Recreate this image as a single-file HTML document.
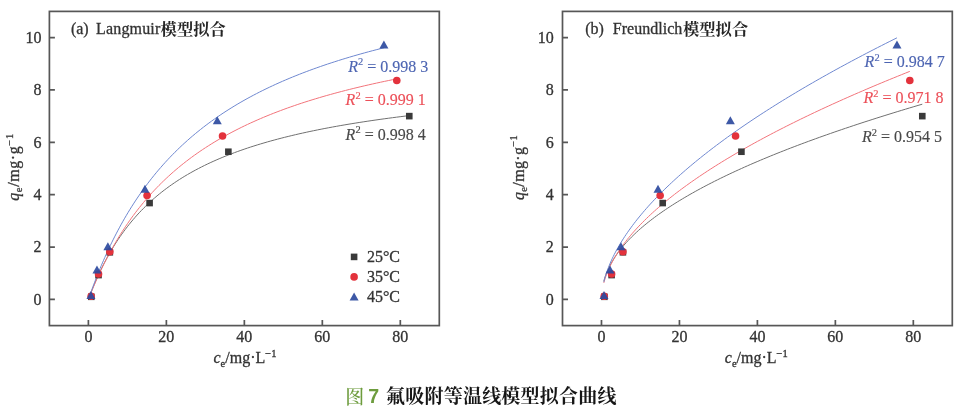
<!DOCTYPE html>
<html><head><meta charset="utf-8"><title>Figure 7</title><style>html,body{margin:0;padding:0;background:#fff;}body{width:969px;height:413px;overflow:hidden;font-family:"Liberation Serif",serif;}svg{display:block;}</style></head><body><svg width="969" height="413" viewBox="0 0 969 413" font-family='"Liberation Serif", serif'><g style="filter:blur(0.6px)">
<path d="M90.73 293.24 L90.88 292.85 L91.18 292.07 L91.60 291.02 L92.11 289.74 L92.70 288.28 L93.37 286.65 L94.11 284.87 L94.91 282.97 L95.78 280.96 L96.71 278.84 L97.69 276.65 L98.73 274.37 L99.82 272.04 L100.97 269.64 L102.16 267.21 L103.41 264.73 L104.70 262.22 L106.04 259.69 L107.42 257.15 L108.85 254.58 L110.32 252.02 L111.83 249.45 L113.39 246.88 L114.99 244.32 L116.62 241.76 L118.30 239.22 L120.02 236.70 L121.77 234.19 L123.56 231.71 L125.39 229.25 L127.26 226.81 L129.16 224.40 L131.10 222.01 L133.08 219.66 L135.09 217.33 L137.13 215.04 L139.21 212.78 L141.33 210.55 L143.48 208.36 L145.66 206.19 L147.87 204.06 L150.12 201.97 L152.39 199.91 L154.70 197.88 L157.05 195.89 L159.42 193.93 L161.82 192.00 L164.26 190.11 L166.73 188.25 L169.22 186.43 L171.75 184.64 L174.31 182.88 L176.89 181.15 L179.51 179.45 L182.15 177.79 L184.83 176.15 L187.53 174.55 L190.26 172.98 L193.02 171.43 L195.81 169.92 L198.63 168.43 L201.47 166.97 L204.34 165.54 L207.24 164.14 L210.17 162.76 L213.12 161.41 L216.10 160.08 L219.11 158.78 L222.14 157.50 L225.20 156.25 L228.29 155.02 L231.40 153.82 L234.54 152.64 L237.71 151.47 L240.90 150.34 L244.12 149.22 L247.36 148.12 L250.63 147.04 L253.92 145.99 L257.24 144.95 L260.58 143.93 L263.95 142.94 L267.34 141.95 L270.75 140.99 L274.20 140.05 L277.66 139.12 L281.15 138.21 L284.67 137.31 L288.20 136.44 L291.77 135.57 L295.35 134.73 L298.96 133.89 L302.59 133.08 L306.25 132.27 L309.93 131.48 L313.63 130.71 L317.36 129.95 L321.11 129.20 L324.88 128.46 L328.68 127.74 L332.50 127.03 L336.34 126.33 L340.20 125.65 L344.09 124.97 L348.00 124.31 L351.93 123.66 L355.88 123.02 L359.86 122.39 L363.86 121.77 L367.88 121.16 L371.92 120.56 L375.98 119.97 L380.07 119.39 L384.18 118.82 L388.31 118.26 L392.46 117.71 L396.63 117.16 L400.83 116.63 L405.04 116.10 L409.28 115.58" fill="none" stroke="#707070" stroke-width="1.0"/>
<path d="M90.73 293.51 L90.87 293.15 L91.17 292.43 L91.57 291.45 L92.06 290.26 L92.62 288.89 L93.27 287.35 L93.97 285.68 L94.75 283.87 L95.58 281.95 L96.47 279.92 L97.42 277.80 L98.42 275.60 L99.47 273.32 L100.57 270.97 L101.72 268.56 L102.91 266.09 L104.15 263.58 L105.44 261.02 L106.77 258.43 L108.14 255.81 L109.55 253.16 L111.01 250.49 L112.50 247.80 L114.04 245.10 L115.61 242.39 L117.22 239.68 L118.87 236.96 L120.55 234.24 L122.28 231.53 L124.04 228.82 L125.83 226.12 L127.66 223.43 L129.52 220.76 L131.42 218.09 L133.35 215.45 L135.32 212.82 L137.32 210.21 L139.35 207.62 L141.41 205.05 L143.50 202.50 L145.63 199.98 L147.79 197.49 L149.98 195.01 L152.20 192.57 L154.45 190.15 L156.73 187.76 L159.04 185.39 L161.38 183.05 L163.75 180.74 L166.15 178.46 L168.58 176.21 L171.03 173.99 L173.52 171.79 L176.03 169.62 L178.57 167.49 L181.14 165.38 L183.74 163.30 L186.36 161.25 L189.02 159.23 L191.70 157.23 L194.40 155.27 L197.13 153.33 L199.89 151.42 L202.68 149.54 L205.49 147.68 L208.33 145.85 L211.19 144.05 L214.08 142.28 L217.00 140.53 L219.94 138.81 L222.90 137.11 L225.89 135.44 L228.91 133.80 L231.95 132.18 L235.02 130.58 L238.11 129.01 L241.22 127.46 L244.36 125.93 L247.53 124.43 L250.71 122.95 L253.93 121.50 L257.16 120.06 L260.42 118.65 L263.70 117.26 L267.01 115.89 L270.34 114.54 L273.69 113.21 L277.07 111.90 L280.47 110.61 L283.89 109.34 L287.34 108.09 L290.80 106.86 L294.30 105.65 L297.81 104.45 L301.35 103.27 L304.90 102.11 L308.48 100.97 L312.09 99.85 L315.71 98.74 L319.36 97.65 L323.03 96.57 L326.72 95.51 L330.43 94.47 L334.17 93.44 L337.92 92.43 L341.70 91.43 L345.50 90.44 L349.32 89.47 L353.16 88.52 L357.02 87.58 L360.91 86.65 L364.81 85.73 L368.74 84.83 L372.68 83.94 L376.65 83.07 L380.64 82.20 L384.65 81.35 L388.68 80.51 L392.73 79.68 L396.80 78.87" fill="none" stroke="#f2747b" stroke-width="1.0"/>
<path d="M90.73 292.77 L90.87 292.38 L91.15 291.60 L91.53 290.54 L92.00 289.26 L92.54 287.77 L93.16 286.12 L93.84 284.30 L94.58 282.34 L95.38 280.26 L96.23 278.06 L97.14 275.76 L98.09 273.36 L99.10 270.87 L100.15 268.31 L101.25 265.67 L102.40 262.98 L103.59 260.23 L104.82 257.42 L106.09 254.58 L107.41 251.70 L108.76 248.78 L110.15 245.84 L111.59 242.87 L113.06 239.89 L114.56 236.89 L116.11 233.88 L117.69 230.87 L119.30 227.85 L120.95 224.83 L122.64 221.81 L124.35 218.79 L126.11 215.79 L127.89 212.79 L129.71 209.81 L131.56 206.84 L133.44 203.88 L135.36 200.94 L137.30 198.02 L139.28 195.13 L141.29 192.25 L143.32 189.40 L145.39 186.57 L147.49 183.76 L149.61 180.98 L151.77 178.23 L153.96 175.51 L156.17 172.81 L158.41 170.14 L160.68 167.50 L162.98 164.89 L165.30 162.31 L167.66 159.76 L170.04 157.24 L172.45 154.75 L174.88 152.29 L177.34 149.86 L179.83 147.46 L182.34 145.09 L184.88 142.75 L187.45 140.45 L190.04 138.17 L192.66 135.92 L195.30 133.70 L197.97 131.52 L200.67 129.36 L203.38 127.23 L206.13 125.13 L208.90 123.06 L211.69 121.02 L214.51 119.01 L217.35 117.02 L220.21 115.07 L223.10 113.14 L226.02 111.24 L228.95 109.36 L231.91 107.52 L234.90 105.70 L237.90 103.90 L240.93 102.13 L243.99 100.39 L247.06 98.67 L250.16 96.98 L253.29 95.31 L256.43 93.66 L259.60 92.04 L262.79 90.44 L266.00 88.87 L269.24 87.32 L272.49 85.79 L275.77 84.28 L279.07 82.79 L282.39 81.33 L285.74 79.88 L289.10 78.46 L292.49 77.06 L295.90 75.68 L299.33 74.32 L302.78 72.97 L306.25 71.65 L309.75 70.34 L313.26 69.06 L316.80 67.79 L320.36 66.54 L323.93 65.31 L327.53 64.09 L331.15 62.90 L334.79 61.72 L338.45 60.55 L342.13 59.40 L345.83 58.27 L349.55 57.16 L353.29 56.06 L357.05 54.97 L360.83 53.90 L364.63 52.85 L368.45 51.81 L372.29 50.78 L376.15 49.77 L380.03 48.77 L383.93 47.78" fill="none" stroke="#6f88d0" stroke-width="1.0"/>
<rect x="88.01" y="293.50" width="6.60" height="6.60" fill="#3a3a3a"/>
<rect x="95.23" y="271.77" width="6.60" height="6.60" fill="#3a3a3a"/>
<rect x="106.53" y="248.99" width="6.60" height="6.60" fill="#3a3a3a"/>
<rect x="146.30" y="199.76" width="6.60" height="6.60" fill="#3a3a3a"/>
<rect x="225.06" y="148.44" width="6.60" height="6.60" fill="#3a3a3a"/>
<rect x="405.98" y="112.83" width="6.60" height="6.60" fill="#3a3a3a"/>
<circle cx="91.12" cy="296.27" r="3.80" fill="#e3323c"/>
<circle cx="98.53" cy="274.02" r="3.80" fill="#e3323c"/>
<circle cx="109.83" cy="251.76" r="3.80" fill="#e3323c"/>
<circle cx="147.07" cy="195.47" r="3.80" fill="#e3323c"/>
<circle cx="222.52" cy="136.03" r="3.80" fill="#e3323c"/>
<circle cx="396.80" cy="80.52" r="3.80" fill="#e3323c"/>
<path d="M90.92 291.09 L95.42 299.09 L86.42 299.09 Z" fill="#2d4a9e" fill-opacity="0.92"/>
<path d="M96.97 265.43 L101.47 273.43 L92.47 273.43 Z" fill="#2d4a9e" fill-opacity="0.92"/>
<path d="M107.89 242.13 L112.39 250.13 L103.39 250.13 Z" fill="#2d4a9e" fill-opacity="0.92"/>
<path d="M144.93 184.78 L149.43 192.78 L140.43 192.78 Z" fill="#2d4a9e" fill-opacity="0.92"/>
<path d="M217.29 116.18 L221.79 124.18 L212.79 124.18 Z" fill="#2d4a9e" fill-opacity="0.92"/>
<path d="M383.93 40.51 L388.43 48.51 L379.43 48.51 Z" fill="#2d4a9e" fill-opacity="0.92"/>
<rect x="49.40" y="11.40" width="389.90" height="314.20" fill="none" stroke="#575757" stroke-width="1.7"/>
<text x="88.39" y="342.30" text-anchor="middle" fill="#333333" stroke="#333333" stroke-width="0.3" font-size="16" >0</text>
<text x="166.37" y="342.30" text-anchor="middle" fill="#333333" stroke="#333333" stroke-width="0.3" font-size="16" >20</text>
<text x="244.35" y="342.30" text-anchor="middle" fill="#333333" stroke="#333333" stroke-width="0.3" font-size="16" >40</text>
<text x="322.33" y="342.30" text-anchor="middle" fill="#333333" stroke="#333333" stroke-width="0.3" font-size="16" >60</text>
<text x="400.31" y="342.30" text-anchor="middle" fill="#333333" stroke="#333333" stroke-width="0.3" font-size="16" >80</text>
<text x="41.50" y="304.82" text-anchor="end" fill="#333333" stroke="#333333" stroke-width="0.3" font-size="16" >0</text>
<text x="41.50" y="252.45" text-anchor="end" fill="#333333" stroke="#333333" stroke-width="0.3" font-size="16" >2</text>
<text x="41.50" y="200.08" text-anchor="end" fill="#333333" stroke="#333333" stroke-width="0.3" font-size="16" >4</text>
<text x="41.50" y="147.72" text-anchor="end" fill="#333333" stroke="#333333" stroke-width="0.3" font-size="16" >6</text>
<text x="41.50" y="95.35" text-anchor="end" fill="#333333" stroke="#333333" stroke-width="0.3" font-size="16" >8</text>
<text x="41.50" y="42.98" text-anchor="end" fill="#333333" stroke="#333333" stroke-width="0.3" font-size="16" >10</text>
<path d="M88.39 325.60 V320.10 M166.37 325.60 V320.10 M244.35 325.60 V320.10 M322.33 325.60 V320.10 M400.31 325.60 V320.10 M49.40 299.42 H54.90 M49.40 247.05 H54.90 M49.40 194.68 H54.90 M49.40 142.32 H54.90 M49.40 89.95 H54.90 M49.40 37.58 H54.90" stroke="#575757" stroke-width="1.7" fill="none"/>
<text x="244.95" y="363.3" text-anchor="middle" fill="#333333" stroke="#333333" stroke-width="0.3" font-size="16"><tspan font-style="italic">c</tspan><tspan font-size="10.5" dy="3.2">e</tspan><tspan dy="-3.2">/mg·L</tspan><tspan font-size="10.5" dy="-6.2">−1</tspan></text>
<text transform="translate(19.20,167.00) rotate(-90)" text-anchor="middle" fill="#333333" stroke="#333333" stroke-width="0.3" font-size="16" letter-spacing="0.6"><tspan font-style="italic">q</tspan><tspan font-size="10.5" dy="3.2">e</tspan><tspan dy="-3.2">/mg·g</tspan><tspan font-size="10.5" dy="-6.2">−1</tspan></text>
<text x="70.90" y="34.10" text-anchor="start" fill="#333333" stroke="#333333" stroke-width="0.3" font-size="16" >(a)</text>
<text x="96.00" y="34.10" text-anchor="start" fill="#333333" stroke="#333333" stroke-width="0.3" font-size="16" textLength="64.3" lengthAdjust="spacing">Langmuir</text>
<text x="348.30" y="71.50" fill="#4d65b2" stroke="#4d65b2" stroke-width="0.15" font-size="16" xml:space="preserve"><tspan font-style="italic">R</tspan><tspan font-size="10.5" dy="-6.5">2</tspan><tspan dy="6.5"> = 0.998 3</tspan></text>
<text x="345.60" y="105.00" fill="#ec5059" stroke="#ec5059" stroke-width="0.15" font-size="16" xml:space="preserve"><tspan font-style="italic">R</tspan><tspan font-size="10.5" dy="-6.5">2</tspan><tspan dy="6.5"> = 0.999 1</tspan></text>
<text x="345.60" y="139.50" fill="#484848" stroke="#484848" stroke-width="0.15" font-size="16" xml:space="preserve"><tspan font-style="italic">R</tspan><tspan font-size="10.5" dy="-6.5">2</tspan><tspan dy="6.5"> = 0.998 4</tspan></text>
<text x="160.60" y="34.70" fill="#262626" font-size="16.3" font-weight="bold" font-family='"Liberation Serif", "Noto Serif CJK SC", serif' textLength="65.2" lengthAdjust="spacing">模型拟合</text>
<path d="M603.82 281.19 L603.97 280.63 L604.27 279.55 L604.69 278.18 L605.20 276.62 L605.79 274.94 L606.46 273.18 L607.20 271.38 L608.00 269.54 L608.87 267.69 L609.79 265.83 L610.78 263.97 L611.82 262.11 L612.91 260.26 L614.06 258.42 L615.25 256.58 L616.49 254.76 L617.79 252.95 L619.12 251.15 L620.51 249.36 L621.93 247.59 L623.40 245.83 L624.92 244.07 L626.47 242.33 L628.07 240.61 L629.71 238.89 L631.38 237.18 L633.10 235.49 L634.85 233.80 L636.64 232.13 L638.47 230.46 L640.34 228.81 L642.24 227.16 L644.18 225.53 L646.16 223.90 L648.17 222.28 L650.21 220.67 L652.29 219.07 L654.40 217.48 L656.55 215.89 L658.73 214.31 L660.94 212.75 L663.19 211.18 L665.47 209.63 L667.78 208.08 L670.12 206.54 L672.49 205.01 L674.90 203.48 L677.33 201.96 L679.80 200.45 L682.29 198.94 L684.82 197.44 L687.38 195.94 L689.96 194.45 L692.58 192.97 L695.22 191.49 L697.89 190.02 L700.60 188.55 L703.33 187.09 L706.09 185.64 L708.87 184.19 L711.69 182.74 L714.53 181.30 L717.40 179.86 L720.30 178.43 L723.23 177.01 L726.18 175.59 L729.16 174.17 L732.17 172.76 L735.20 171.35 L738.26 169.94 L741.35 168.55 L744.46 167.15 L747.60 165.76 L750.76 164.37 L753.95 162.99 L757.17 161.61 L760.41 160.24 L763.67 158.87 L766.97 157.50 L770.28 156.14 L773.62 154.78 L776.99 153.42 L780.38 152.07 L783.80 150.72 L787.24 149.37 L790.70 148.03 L794.19 146.69 L797.70 145.36 L801.24 144.03 L804.80 142.70 L808.39 141.37 L812.00 140.05 L815.63 138.73 L819.28 137.41 L822.96 136.10 L826.67 134.79 L830.39 133.49 L834.14 132.18 L837.91 130.88 L841.71 129.58 L845.53 128.29 L849.37 127.00 L853.23 125.71 L857.11 124.42 L861.02 123.14 L864.95 121.85 L868.91 120.58 L872.88 119.30 L876.88 118.03 L880.90 116.76 L884.94 115.49 L889.00 114.22 L893.09 112.96 L897.19 111.70 L901.32 110.44 L905.47 109.19 L909.64 107.93 L913.84 106.68 L918.05 105.43 L922.29 104.19" fill="none" stroke="#707070" stroke-width="1.0"/>
<path d="M603.82 282.95 L603.96 282.41 L604.26 281.36 L604.66 280.00 L605.14 278.45 L605.71 276.75 L606.35 274.96 L607.06 273.11 L607.84 271.21 L608.67 269.27 L609.56 267.32 L610.51 265.35 L611.50 263.36 L612.56 261.38 L613.65 259.39 L614.80 257.40 L616.00 255.41 L617.24 253.42 L618.52 251.44 L619.85 249.46 L621.22 247.49 L622.64 245.52 L624.09 243.56 L625.59 241.60 L627.12 239.64 L628.69 237.70 L630.30 235.76 L631.95 233.82 L633.64 231.89 L635.36 229.97 L637.12 228.05 L638.91 226.14 L640.74 224.23 L642.60 222.33 L644.50 220.44 L646.43 218.55 L648.40 216.66 L650.39 214.79 L652.42 212.91 L654.49 211.04 L656.58 209.18 L658.71 207.32 L660.86 205.47 L663.05 203.62 L665.27 201.78 L667.52 199.94 L669.80 198.10 L672.11 196.27 L674.45 194.45 L676.82 192.62 L679.22 190.81 L681.65 188.99 L684.10 187.19 L686.59 185.38 L689.10 183.58 L691.64 181.78 L694.21 179.99 L696.81 178.20 L699.43 176.42 L702.08 174.64 L704.76 172.86 L707.46 171.08 L710.20 169.31 L712.95 167.55 L715.74 165.78 L718.55 164.02 L721.39 162.27 L724.25 160.51 L727.14 158.76 L730.05 157.02 L732.99 155.27 L735.96 153.53 L738.95 151.79 L741.96 150.06 L745.00 148.33 L748.07 146.60 L751.16 144.87 L754.27 143.15 L757.41 141.43 L760.58 139.71 L763.76 138.00 L766.97 136.29 L770.21 134.58 L773.47 132.87 L776.75 131.17 L780.05 129.47 L783.38 127.77 L786.74 126.07 L790.11 124.38 L793.51 122.69 L796.93 121.00 L800.38 119.31 L803.84 117.63 L807.33 115.95 L810.85 114.27 L814.38 112.59 L817.94 110.92 L821.52 109.24 L825.12 107.57 L828.74 105.91 L832.39 104.24 L836.06 102.58 L839.75 100.92 L843.46 99.26 L847.19 97.60 L850.95 95.95 L854.72 94.29 L858.52 92.64 L862.34 91.00 L866.18 89.35 L870.04 87.70 L873.93 86.06 L877.83 84.42 L881.76 82.78 L885.70 81.15 L889.67 79.51 L893.66 77.88 L897.66 76.25 L901.69 74.62 L905.74 72.99 L909.81 71.36" fill="none" stroke="#f2747b" stroke-width="1.0"/>
<path d="M603.82 282.08 L603.96 281.51 L604.24 280.40 L604.62 278.96 L605.09 277.30 L605.63 275.49 L606.25 273.56 L606.93 271.56 L607.67 269.49 L608.47 267.38 L609.32 265.25 L610.22 263.08 L611.18 260.91 L612.19 258.72 L613.24 256.52 L614.34 254.31 L615.49 252.10 L616.67 249.89 L617.91 247.68 L619.18 245.47 L620.49 243.26 L621.85 241.05 L623.24 238.84 L624.67 236.64 L626.14 234.44 L627.65 232.24 L629.19 230.05 L630.77 227.86 L632.38 225.67 L634.03 223.49 L635.72 221.31 L637.43 219.13 L639.19 216.96 L640.97 214.80 L642.79 212.63 L644.64 210.48 L646.52 208.32 L648.43 206.17 L650.38 204.02 L652.36 201.88 L654.36 199.74 L656.40 197.61 L658.47 195.48 L660.56 193.35 L662.69 191.22 L664.84 189.10 L667.03 186.99 L669.24 184.88 L671.48 182.77 L673.75 180.66 L676.05 178.56 L678.37 176.46 L680.73 174.36 L683.11 172.27 L685.51 170.18 L687.95 168.09 L690.41 166.01 L692.90 163.93 L695.41 161.85 L697.95 159.78 L700.52 157.71 L703.11 155.64 L705.72 153.58 L708.37 151.52 L711.03 149.46 L713.73 147.40 L716.45 145.35 L719.19 143.30 L721.96 141.25 L724.75 139.20 L727.56 137.16 L730.40 135.12 L733.27 133.08 L736.16 131.05 L739.07 129.02 L742.01 126.99 L744.97 124.96 L747.95 122.94 L750.96 120.91 L753.99 118.89 L757.04 116.87 L760.11 114.86 L763.21 112.85 L766.33 110.84 L769.48 108.83 L772.65 106.82 L775.83 104.82 L779.05 102.81 L782.28 100.81 L785.54 98.82 L788.81 96.82 L792.11 94.83 L795.43 92.84 L798.78 90.85 L802.14 88.86 L805.53 86.87 L808.94 84.89 L812.37 82.91 L815.82 80.93 L819.29 78.95 L822.78 76.97 L826.30 75.00 L829.83 73.03 L833.39 71.06 L836.96 69.09 L840.56 67.12 L844.18 65.16 L847.82 63.20 L851.47 61.23 L855.15 59.28 L858.85 57.32 L862.57 55.36 L866.31 53.41 L870.07 51.45 L873.85 49.50 L877.65 47.55 L881.47 45.61 L885.31 43.66 L889.17 41.72 L893.05 39.77 L896.95 37.83" fill="none" stroke="#6f88d0" stroke-width="1.0"/>
<rect x="601.10" y="293.50" width="6.60" height="6.60" fill="#3a3a3a"/>
<rect x="608.31" y="271.77" width="6.60" height="6.60" fill="#3a3a3a"/>
<rect x="619.62" y="248.99" width="6.60" height="6.60" fill="#3a3a3a"/>
<rect x="659.38" y="199.76" width="6.60" height="6.60" fill="#3a3a3a"/>
<rect x="738.12" y="148.44" width="6.60" height="6.60" fill="#3a3a3a"/>
<rect x="918.99" y="112.83" width="6.60" height="6.60" fill="#3a3a3a"/>
<circle cx="604.21" cy="296.27" r="3.80" fill="#e3323c"/>
<circle cx="611.61" cy="274.02" r="3.80" fill="#e3323c"/>
<circle cx="622.92" cy="251.76" r="3.80" fill="#e3323c"/>
<circle cx="660.14" cy="195.47" r="3.80" fill="#e3323c"/>
<circle cx="735.57" cy="136.03" r="3.80" fill="#e3323c"/>
<circle cx="909.81" cy="80.52" r="3.80" fill="#e3323c"/>
<path d="M604.01 291.09 L608.51 299.09 L599.51 299.09 Z" fill="#2d4a9e" fill-opacity="0.92"/>
<path d="M610.06 265.43 L614.56 273.43 L605.56 273.43 Z" fill="#2d4a9e" fill-opacity="0.92"/>
<path d="M620.97 242.13 L625.47 250.13 L616.47 250.13 Z" fill="#2d4a9e" fill-opacity="0.92"/>
<path d="M658.00 184.78 L662.50 192.78 L653.50 192.78 Z" fill="#2d4a9e" fill-opacity="0.92"/>
<path d="M730.35 116.18 L734.85 124.18 L725.85 124.18 Z" fill="#2d4a9e" fill-opacity="0.92"/>
<path d="M896.95 40.51 L901.45 48.51 L892.45 48.51 Z" fill="#2d4a9e" fill-opacity="0.92"/>
<rect x="562.50" y="11.40" width="389.80" height="314.20" fill="none" stroke="#575757" stroke-width="1.7"/>
<text x="601.48" y="342.30" text-anchor="middle" fill="#333333" stroke="#333333" stroke-width="0.3" font-size="16" >0</text>
<text x="679.44" y="342.30" text-anchor="middle" fill="#333333" stroke="#333333" stroke-width="0.3" font-size="16" >20</text>
<text x="757.40" y="342.30" text-anchor="middle" fill="#333333" stroke="#333333" stroke-width="0.3" font-size="16" >40</text>
<text x="835.36" y="342.30" text-anchor="middle" fill="#333333" stroke="#333333" stroke-width="0.3" font-size="16" >60</text>
<text x="913.32" y="342.30" text-anchor="middle" fill="#333333" stroke="#333333" stroke-width="0.3" font-size="16" >80</text>
<text x="553.70" y="304.82" text-anchor="end" fill="#333333" stroke="#333333" stroke-width="0.3" font-size="16" >0</text>
<text x="553.70" y="252.45" text-anchor="end" fill="#333333" stroke="#333333" stroke-width="0.3" font-size="16" >2</text>
<text x="553.70" y="200.08" text-anchor="end" fill="#333333" stroke="#333333" stroke-width="0.3" font-size="16" >4</text>
<text x="553.70" y="147.72" text-anchor="end" fill="#333333" stroke="#333333" stroke-width="0.3" font-size="16" >6</text>
<text x="553.70" y="95.35" text-anchor="end" fill="#333333" stroke="#333333" stroke-width="0.3" font-size="16" >8</text>
<text x="553.70" y="42.98" text-anchor="end" fill="#333333" stroke="#333333" stroke-width="0.3" font-size="16" >10</text>
<path d="M601.48 325.60 V320.10 M679.44 325.60 V320.10 M757.40 325.60 V320.10 M835.36 325.60 V320.10 M913.32 325.60 V320.10 M562.50 299.42 H568.00 M562.50 247.05 H568.00 M562.50 194.68 H568.00 M562.50 142.32 H568.00 M562.50 89.95 H568.00 M562.50 37.58 H568.00" stroke="#575757" stroke-width="1.7" fill="none"/>
<text x="756.30" y="363.3" text-anchor="middle" fill="#333333" stroke="#333333" stroke-width="0.3" font-size="16"><tspan font-style="italic">c</tspan><tspan font-size="10.5" dy="3.2">e</tspan><tspan dy="-3.2">/mg·L</tspan><tspan font-size="10.5" dy="-6.2">−1</tspan></text>
<text transform="translate(523.60,167.40) rotate(-90)" text-anchor="middle" fill="#333333" stroke="#333333" stroke-width="0.3" font-size="16" letter-spacing="0.35"><tspan font-style="italic">q</tspan><tspan font-size="10.5" dy="3.2">e</tspan><tspan dy="-3.2">/mg·g</tspan><tspan font-size="10.5" dy="-6.2">−1</tspan></text>
<text x="585.20" y="34.10" text-anchor="start" fill="#333333" stroke="#333333" stroke-width="0.3" font-size="16" >(b)</text>
<text x="612.80" y="34.10" text-anchor="start" fill="#333333" stroke="#333333" stroke-width="0.3" font-size="16" textLength="69.5" lengthAdjust="spacing">Freundlich</text>
<text x="864.60" y="67.30" fill="#4d65b2" stroke="#4d65b2" stroke-width="0.15" font-size="16" xml:space="preserve"><tspan font-style="italic">R</tspan><tspan font-size="10.5" dy="-6.5">2</tspan><tspan dy="6.5"> = 0.984 7</tspan></text>
<text x="863.40" y="103.20" fill="#ec5059" stroke="#ec5059" stroke-width="0.15" font-size="16" xml:space="preserve"><tspan font-style="italic">R</tspan><tspan font-size="10.5" dy="-6.5">2</tspan><tspan dy="6.5"> = 0.971 8</tspan></text>
<text x="861.90" y="142.40" fill="#484848" stroke="#484848" stroke-width="0.15" font-size="16" xml:space="preserve"><tspan font-style="italic">R</tspan><tspan font-size="10.5" dy="-6.5">2</tspan><tspan dy="6.5"> = 0.954 5</tspan></text>
<text x="683.00" y="34.70" fill="#262626" font-size="16.3" font-weight="bold" font-family='"Liberation Serif", "Noto Serif CJK SC", serif' textLength="65.2" lengthAdjust="spacing">模型拟合</text>
<rect x="350.80" y="253.60" width="6.60" height="6.60" fill="#3a3a3a"/>
<text x="366.90" y="261.60" text-anchor="start" fill="#333333" stroke="#333333" stroke-width="0.3" font-size="16" >25°C</text>
<circle cx="354.10" cy="276.90" r="3.80" fill="#e3323c"/>
<text x="366.90" y="281.80" text-anchor="start" fill="#333333" stroke="#333333" stroke-width="0.3" font-size="16" >35°C</text>
<path d="M354.10 292.40 L358.60 300.40 L349.60 300.40 Z" fill="#2d4a9e" fill-opacity="0.92"/>
<text x="366.90" y="301.50" text-anchor="start" fill="#333333" stroke="#333333" stroke-width="0.3" font-size="16" >45°C</text>
</g><g style="filter:blur(0.35px)">
<text x="345.30" y="403.50" fill="#6d9c3d" font-size="19" font-weight="500" font-family='"Liberation Serif", "Noto Serif CJK SC", serif'>图</text>
<text x="368.3" y="403.2" fill="#6d9c3d" font-size="19.6" font-weight="bold" font-family='"Liberation Sans", sans-serif'>7</text>
<text x="386.00" y="403.40" fill="#161616" font-size="19" font-weight="bold" font-family='"Liberation Serif", "Noto Serif CJK SC", serif' textLength="230.5" lengthAdjust="spacing">氟吸附等温线模型拟合曲线</text>
</g></svg></body></html>
